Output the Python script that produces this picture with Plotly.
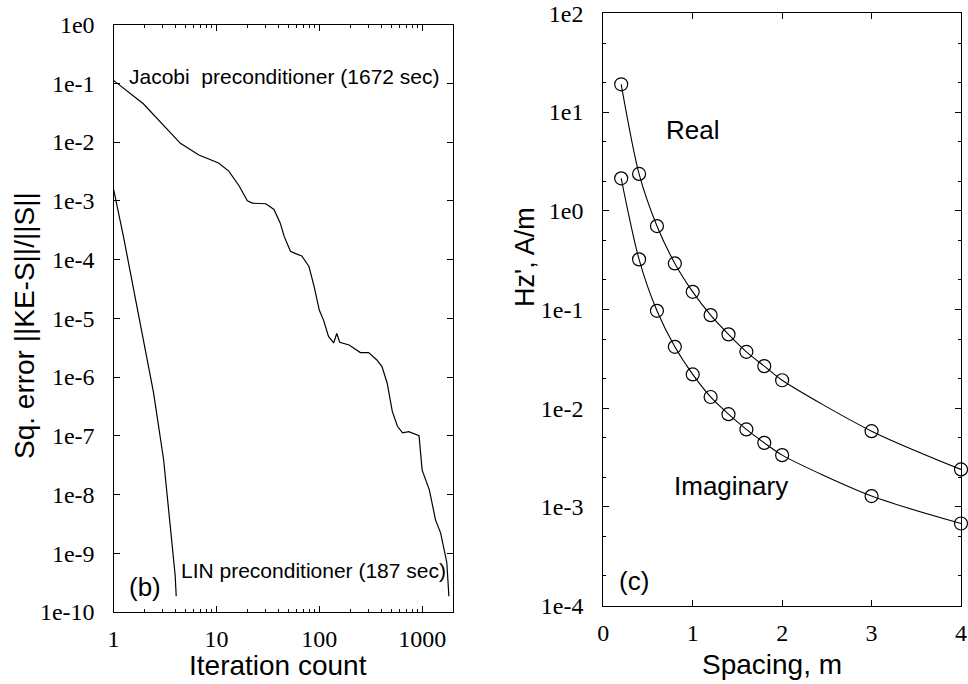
import plotly.graph_objects as go
from plotly.subplots import make_subplots

# ---- Panel (b): convergence ----
jacobi_iter = [1, 1.95, 4.47, 6.76, 10.5, 13.2, 16.6, 20, 22.4, 30.2, 36.3, 41.7, 45.7, 52.5,
               58.9, 67.6, 79.4, 89.1, 100, 110, 123, 138, 148, 158, 195, 251, 302, 363, 407,
               457, 513, 575, 646, 741, 933, 1000, 1175, 1349, 1514, 1622, 1738, 1820]
jacobi_err = [0.112, 0.0447, 9.5e-3, 6.0e-3, 4.4e-3, 3.2e-3, 1.8e-3, 1.0e-3, 9.1e-4, 8.9e-4,
              7.1e-4, 4.2e-4, 2.45e-4, 1.38e-4, 1.26e-4, 1.15e-4, 7.6e-5, 3.5e-5, 1.38e-5,
              9.3e-6, 4.9e-6, 3.8e-6, 5.5e-6, 3.9e-6, 3.5e-6, 2.6e-6, 2.6e-6, 1.95e-6, 1.5e-6,
              7.9e-7, 2.6e-7, 1.45e-7, 1.12e-7, 1.17e-7, 1.0e-7, 2.6e-8, 1.2e-8, 3.7e-9,
              2.2e-9, 1.15e-9, 6.9e-10, 1.86e-10]
lin_iter = [1, 1.25, 1.69, 2.11, 2.45, 3.07, 3.56, 3.98, 4.07]
lin_err = [1.6e-3, 2.45e-4, 1.58e-5, 1.95e-6, 5.4e-7, 3.9e-8, 2.9e-9, 4.1e-10, 1.86e-10]

b_xticks = [1, 10, 100, 1000]
b_xticktext = ["1", "10", "100", "1000"]
b_yticks = [1e0, 1e-1, 1e-2, 1e-3, 1e-4, 1e-5, 1e-6, 1e-7, 1e-8, 1e-9, 1e-10]
b_yticktext = ["1e0", "1e-1", "1e-2", "1e-3", "1e-4", "1e-5", "1e-6", "1e-7", "1e-8", "1e-9", "1e-10"]

# ---- Panel (c): Hz' vs spacing ----
spacing = [0.2, 0.4, 0.6, 0.8, 1.0, 1.2, 1.4, 1.6, 1.8, 2.0, 3.0, 4.0]
hz_real = [19.1, 2.36, 0.70, 0.293, 0.151, 0.0877, 0.056, 0.0373, 0.0267, 0.0192, 0.00586, 0.0024]
hz_imag = [2.13, 0.322, 0.097, 0.0419, 0.022, 0.013, 0.0087, 0.0061, 0.00446, 0.00335, 0.00129, 0.00068]

c_xticks = [0, 1, 2, 3, 4]
c_yticks = [1e2, 1e1, 1e0, 1e-1, 1e-2, 1e-3, 1e-4]
c_yticktext = ["1e2", "1e1", "1e0", "1e-1", "1e-2", "1e-3", "1e-4"]

W, H = 968, 684


def fx(px):
    return px / W


def fy(py):
    return 1 - py / H


fig = make_subplots(rows=1, cols=2)

line = dict(color="black", width=1.2)
fig.add_trace(go.Scatter(x=jacobi_iter, y=jacobi_err, mode="lines", line=line), row=1, col=1)
fig.add_trace(go.Scatter(x=lin_iter, y=lin_err, mode="lines", line=line), row=1, col=1)

mk = dict(symbol="circle-open", size=13, color="black", line=dict(width=1.2, color="black"))
fig.add_trace(go.Scatter(x=spacing, y=hz_real, mode="lines+markers",
                         line=dict(color="black", width=1.1, shape="spline", smoothing=0.8),
                         marker=mk, cliponaxis=False), row=1, col=2)
fig.add_trace(go.Scatter(x=spacing, y=hz_imag, mode="lines+markers",
                         line=dict(color="black", width=1.1, shape="spline", smoothing=0.8),
                         marker=mk, cliponaxis=False), row=1, col=2)

tickfont = dict(family="Liberation Serif, Times New Roman, serif", size=24, color="black")
common = dict(showline=True, linecolor="black", linewidth=1.2, mirror="ticks", ticks="inside",
              ticklen=6, tickcolor="black", showgrid=False, zeroline=False, tickfont=tickfont,
              automargin=False, ticklabeloverflow="allow")

fig.update_xaxes(type="log", range=[0, 3.3], tickvals=b_xticks, ticktext=b_xticktext,
                 domain=[fx(113.5), fx(453)],
                 minor=dict(ticks="inside", ticklen=3, dtick="D1", tickcolor="black", showgrid=False),
                 ticklabelstandoff=5,
                 row=1, col=1, **common)
fig.update_yaxes(type="log", range=[-10, 0], tickvals=b_yticks, ticktext=b_yticktext,
                 domain=[fy(612), fy(24.5)], ticklabelstandoff=13,
                 row=1, col=1, **common)
fig.update_xaxes(range=[0, 4], tickvals=c_xticks, domain=[fx(603.3), fx(961)],
                 ticklabelstandoff=5, row=1, col=2, **common)
fig.update_yaxes(type="log", range=[-4, 2], tickvals=c_yticks, ticktext=c_yticktext,
                 domain=[fy(605.7), fy(13.3)], ticklabelstandoff=14,
                 minor=dict(ticks="inside", ticklen=3, dtick="D2", tickcolor="black", showgrid=False),
                 row=1, col=2, **common)

sans = "Liberation Sans, Arial, sans-serif"


def ann(text, px, py, size, xanchor="left", angle=0):
    fig.add_annotation(text=text, x=fx(px), y=fy(py), xref="paper", yref="paper",
                       xanchor=xanchor, yanchor="middle", showarrow=False, textangle=angle,
                       font=dict(family=sans, size=size, color="black"))


ann("Jacobi\u00a0 preconditioner (1672 sec)", 127, 77, 21)
ann("LIN preconditioner (187 sec)", 179, 570, 21)
ann("(b)", 127, 587, 26)
ann("Real", 664, 130, 26)
ann("Imaginary", 672, 486, 26)
ann("(c)", 617, 581, 26)
ann("Sq. error ||KE-S||/||S||", 24, 326, 28, xanchor="center", angle=-90)
ann("Iteration count", 278, 665, 28, xanchor="center")
ann("Hz', A/m", 525, 257, 27, xanchor="center", angle=-90)
ann("Spacing, m", 772, 664, 28, xanchor="center")

fig.update_layout(width=W, height=H, margin=dict(l=0, r=0, t=0, b=0, pad=0, autoexpand=False),
                  paper_bgcolor="white", plot_bgcolor="white", showlegend=False)

fig.write_html("out.html", config={"displayModeBar": False},
               post_script="document.body.style.margin='0px';document.body.style.overflow='hidden';")
